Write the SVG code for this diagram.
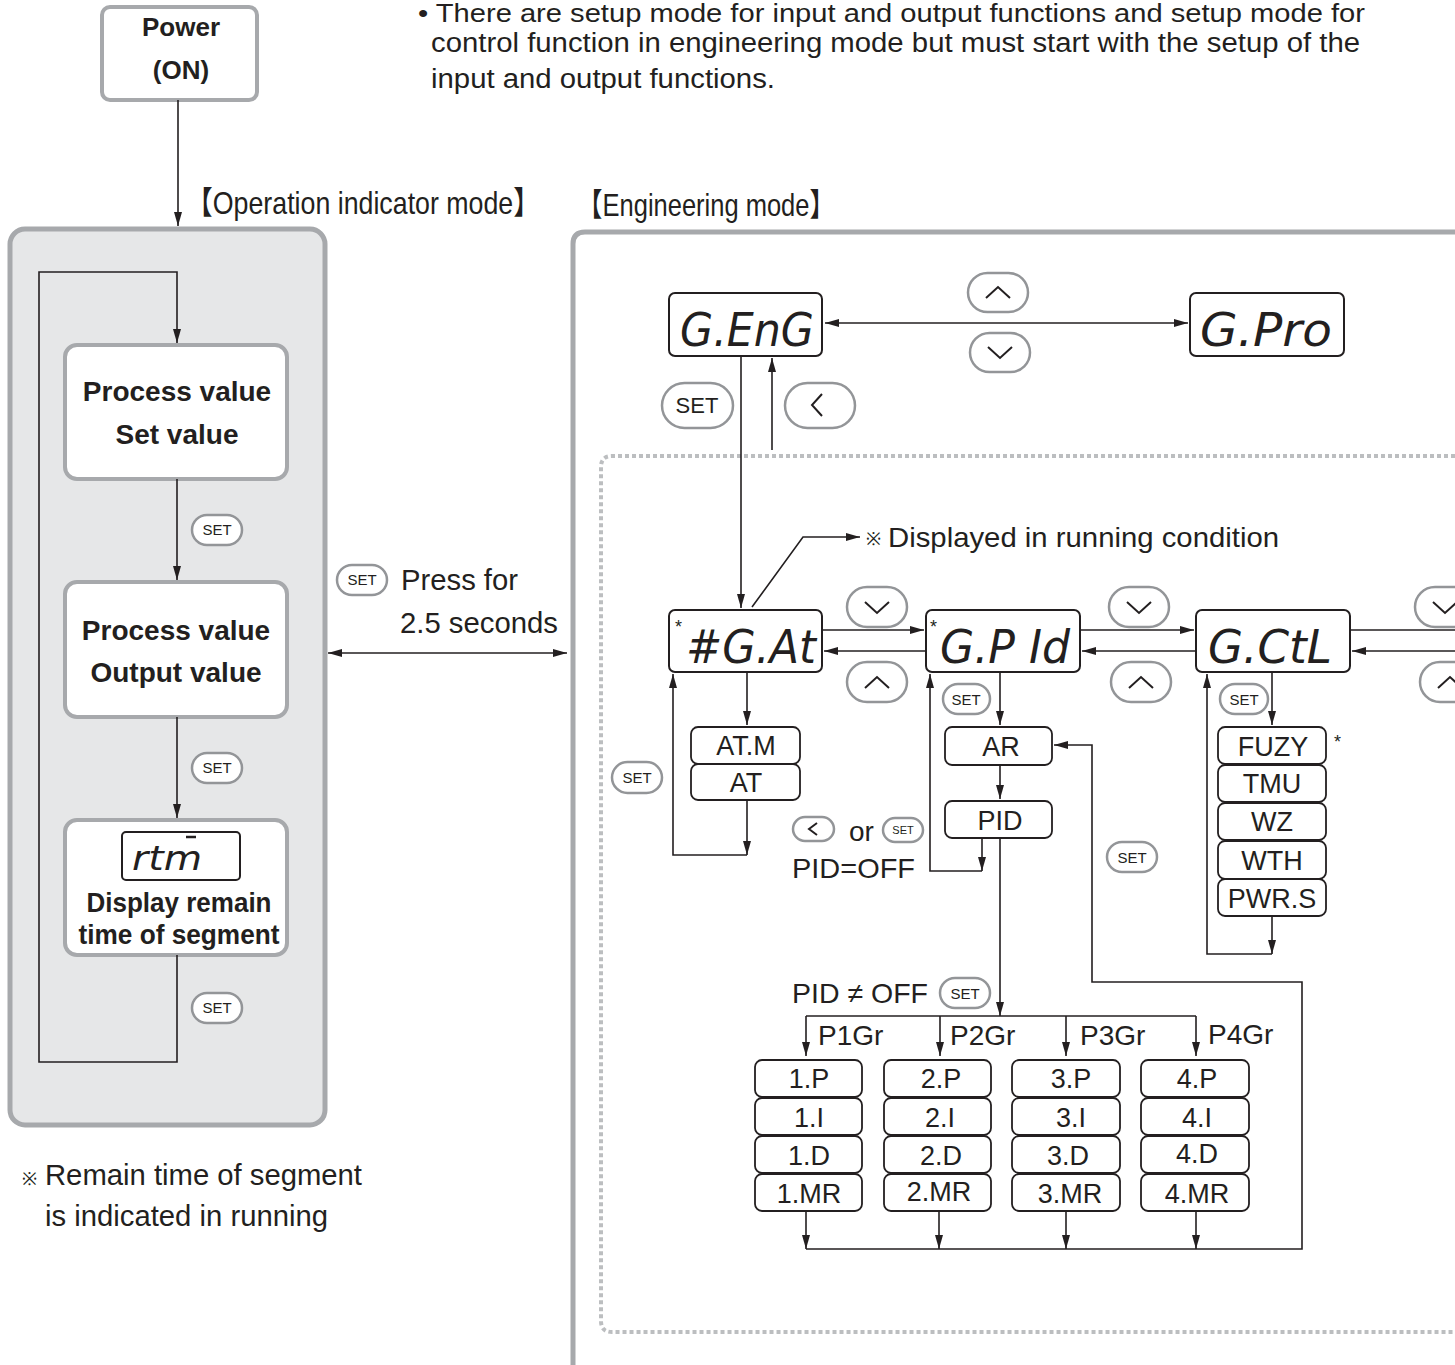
<svg xmlns="http://www.w3.org/2000/svg" width="1455" height="1365" viewBox="0 0 1455 1365">
<defs>
<marker id="ah" viewBox="0 0 14 8" refX="14" refY="4" markerWidth="14" markerHeight="8" orient="auto-start-reverse" markerUnits="userSpaceOnUse"><path d="M0,0 L14,4 L0,8 z" fill="#231f20"/></marker>
<style>
.ln{fill:none;stroke:#231f20;stroke-width:1.6}
.btn{fill:#fff;stroke:#939598;stroke-width:2.5}
.chev{fill:none;stroke:#231f20;stroke-width:2}
.bt{font-family:"Liberation Sans",Arial,sans-serif;fill:#231f20;text-anchor:middle}
.t{font-family:"Liberation Sans",Arial,sans-serif;fill:#231f20}
.tb{font-family:"Liberation Sans",Arial,sans-serif;font-weight:bold;fill:#231f20;text-anchor:middle}
.box{fill:#fff;stroke:#231f20;stroke-width:1.8}
.disp{fill:#fff;stroke:#231f20;stroke-width:2}
.seg{font-family:"DejaVu Sans","Liberation Sans",sans-serif;font-style:italic;fill:#231f20}
.it{font-family:"Liberation Sans",Arial,sans-serif;fill:#231f20;text-anchor:middle;font-size:27px}
.hdr{font-family:"Liberation Sans","Noto Sans CJK JP",sans-serif;fill:#231f20;font-size:32px}
</style>
</defs>
<rect width="1455" height="1365" fill="#fff"/>

<!-- panels -->
<g id="op-panel">
<rect x="10" y="229" width="315" height="896" rx="15" fill="#e6e7e8" stroke="#a7a9ac" stroke-width="5"/>
</g>
<g id="eng-panel">
<path d="M573,1370 V244 Q573,232 585,232 H1460" fill="#fff" stroke="#a7a9ac" stroke-width="5"/>
<path d="M1455,456 H612 Q601,456 601,467 V1321 Q601,1332 612,1332 H1455" fill="none" stroke="#bcbec0" stroke-width="4" stroke-dasharray="4 3"/>
</g>

<!-- header texts -->
<text class="t" font-size="26" x="418" y="22" textLength="947" lengthAdjust="spacingAndGlyphs">• There are setup mode for input and output functions and setup mode for</text>
<text class="t" font-size="27" x="431" y="52" textLength="929" lengthAdjust="spacingAndGlyphs">control function in engineering mode but must start with the setup of the</text>
<text class="t" font-size="27" x="431" y="88" textLength="344" lengthAdjust="spacingAndGlyphs">input and output functions.</text>
<text class="hdr" x="186" y="214" textLength="354" lengthAdjust="spacingAndGlyphs">【Operation indicator mode】</text>
<text class="hdr" x="577" y="216" textLength="258" lengthAdjust="spacingAndGlyphs">【Engineering mode】</text>

<!-- Power node -->
<g id="power">
<rect x="102" y="7" width="155" height="93" rx="8" fill="#fff" stroke="#a7a9ac" stroke-width="4"/>
<text class="tb" font-size="26" x="181" y="36">Power</text>
<text class="tb" font-size="26" x="181" y="79">(ON)</text>
</g>

<!-- Operation indicator nodes -->
<g id="pv-sv">
<rect x="65" y="345" width="222" height="134" rx="12" fill="#fff" stroke="#a7a9ac" stroke-width="4"/>
<text class="tb" font-size="28" x="177" y="401">Process value</text>
<text class="tb" font-size="28" x="177" y="444">Set value</text>
</g>
<g id="pv-ov">
<rect x="65" y="582" width="222" height="135" rx="12" fill="#fff" stroke="#a7a9ac" stroke-width="4"/>
<text class="tb" font-size="28" x="176" y="640">Process value</text>
<text class="tb" font-size="28" x="176" y="682">Output value</text>
</g>
<g id="rtm">
<rect x="65" y="820" width="222" height="135" rx="12" fill="#fff" stroke="#a7a9ac" stroke-width="4"/>
<rect x="122" y="832" width="118" height="48" rx="4" class="disp" stroke-width="1.6"/>
<text class="seg" font-size="34" x="132" y="870" textLength="70" lengthAdjust="spacingAndGlyphs">rtm</text>
<line x1="186" y1="837" x2="196" y2="837" stroke="#231f20" stroke-width="2.5"/>
<text class="tb" font-size="27" x="179" y="912" textLength="185" lengthAdjust="spacingAndGlyphs">Display remain</text>
<text class="tb" font-size="27" x="179" y="944" textLength="201" lengthAdjust="spacingAndGlyphs">time of segment</text>
</g>

<!-- op buttons -->
<g id="op-buttons">
<rect class="btn" x="192" y="515" width="50" height="30" rx="15"/><text class="bt" font-size="15" x="217" y="535">SET</text>
<rect class="btn" x="192" y="753" width="50" height="30" rx="15"/><text class="bt" font-size="15" x="217" y="773">SET</text>
<rect class="btn" x="192" y="993" width="50" height="30" rx="15"/><text class="bt" font-size="15" x="217" y="1013">SET</text>
<rect class="btn" x="337" y="565" width="50" height="30" rx="15"/><text class="bt" font-size="15" x="362" y="585">SET</text>
</g>
<text class="t" font-size="29" x="401" y="590" textLength="117" lengthAdjust="spacingAndGlyphs">Press for</text>
<text class="t" font-size="29" x="400" y="633" textLength="158" lengthAdjust="spacingAndGlyphs">2.5 seconds</text>
<text class="t" font-size="18" x="22" y="1185">※</text>
<text class="t" font-size="29" x="45" y="1185" textLength="317" lengthAdjust="spacingAndGlyphs">Remain time of segment</text>
<text class="t" font-size="29" x="45" y="1226" textLength="283" lengthAdjust="spacingAndGlyphs">is indicated in running</text>

<!-- Engineering displays -->
<g id="g-eng">
<rect class="disp" x="669" y="293" width="153" height="63" rx="6"/>
<text class="seg" font-size="46" x="680" y="346" textLength="134" lengthAdjust="spacingAndGlyphs">G.EnG</text>
</g>
<g id="g-pro">
<rect class="disp" x="1190" y="293" width="154" height="63" rx="6"/>
<text class="seg" font-size="46" x="1200" y="346" textLength="132" lengthAdjust="spacingAndGlyphs">G.Pro</text>
</g>
<g id="g-at">
<rect class="disp" x="669" y="610" width="153" height="62" rx="6"/>
<text class="t" font-size="18" x="675" y="633">*</text>
<text class="seg" font-size="46" x="686" y="663" textLength="130" lengthAdjust="spacingAndGlyphs">#G.At</text>
</g>
<g id="g-pid">
<rect class="disp" x="926" y="610" width="154" height="62" rx="6"/>
<text class="t" font-size="18" x="930" y="633">*</text>
<text class="seg" font-size="46" x="940" y="663" textLength="130" lengthAdjust="spacingAndGlyphs">G.P Id</text>
</g>
<g id="g-ctl">
<rect class="disp" x="1196" y="610" width="154" height="62" rx="6"/>
<text class="seg" font-size="46" x="1208" y="663" textLength="124" lengthAdjust="spacingAndGlyphs">G.CtL</text>
</g>

<!-- AT group -->
<g id="atm"><rect class="box" x="691" y="727" width="109" height="37" rx="7"/><text class="it" x="746" y="755">AT.M</text></g>
<g id="at"><rect class="box" x="691" y="764" width="109" height="36" rx="7"/><text class="it" x="746" y="792">AT</text></g>
<g id="ar"><rect class="box" x="945" y="727" width="107" height="38" rx="7"/><text class="it" x="1001" y="756">AR</text></g>
<g id="pid"><rect class="box" x="945" y="801" width="107" height="37" rx="7"/><text class="it" x="1000" y="830">PID</text></g>

<g id="ctl-items">
<rect class="box" x="1218" y="727" width="108" height="37" rx="7"/><text class="it" x="1273" y="756">FUZY</text>
<rect class="box" x="1218" y="765" width="108" height="37" rx="7"/><text class="it" x="1272" y="793">TMU</text>
<rect class="box" x="1218" y="803" width="108" height="37" rx="7"/><text class="it" x="1272" y="831">WZ</text>
<rect class="box" x="1218" y="841" width="108" height="38" rx="7"/><text class="it" x="1272" y="870">WTH</text>
<rect class="box" x="1218" y="879" width="108" height="37" rx="7"/><text class="it" x="1272" y="908">PWR.S</text>
<text class="t" font-size="18" x="1334" y="748">*</text>
</g>

<g id="pid-grid">
<rect class="box" x="755" y="1060" width="107" height="37" rx="7"/><text class="it" x="809" y="1088">1.P</text>
<rect class="box" x="755" y="1098" width="107" height="37" rx="7"/><text class="it" x="809" y="1127">1.I</text>
<rect class="box" x="755" y="1136" width="107" height="37" rx="7"/><text class="it" x="809" y="1165">1.D</text>
<rect class="box" x="755" y="1174" width="107" height="37" rx="7"/><text class="it" x="809" y="1203">1.MR</text>
<rect class="box" x="884" y="1060" width="107" height="37" rx="7"/><text class="it" x="941" y="1088">2.P</text>
<rect class="box" x="884" y="1098" width="107" height="37" rx="7"/><text class="it" x="940" y="1127">2.I</text>
<rect class="box" x="884" y="1136" width="107" height="37" rx="7"/><text class="it" x="941" y="1165">2.D</text>
<rect class="box" x="884" y="1174" width="107" height="37" rx="7"/><text class="it" x="939" y="1201">2.MR</text>
<rect class="box" x="1012" y="1060" width="108" height="37" rx="7"/><text class="it" x="1071" y="1088">3.P</text>
<rect class="box" x="1012" y="1098" width="108" height="37" rx="7"/><text class="it" x="1071" y="1127">3.I</text>
<rect class="box" x="1012" y="1136" width="108" height="37" rx="7"/><text class="it" x="1068" y="1165">3.D</text>
<rect class="box" x="1012" y="1174" width="108" height="37" rx="7"/><text class="it" x="1070" y="1203">3.MR</text>
<rect class="box" x="1141" y="1060" width="108" height="37" rx="7"/><text class="it" x="1197" y="1088">4.P</text>
<rect class="box" x="1141" y="1098" width="108" height="37" rx="7"/><text class="it" x="1197" y="1127">4.I</text>
<rect class="box" x="1141" y="1136" width="108" height="37" rx="7"/><text class="it" x="1197" y="1163">4.D</text>
<rect class="box" x="1141" y="1174" width="108" height="37" rx="7"/><text class="it" x="1197" y="1203">4.MR</text>
</g>

<!-- labels -->
<text class="t" font-size="18" x="866" y="545">※</text>
<text class="t" font-size="28" x="888" y="547" textLength="391" lengthAdjust="spacingAndGlyphs">Displayed in running condition</text>
<text class="t" font-size="28" x="849" y="841">or</text>
<text class="t" font-size="28" x="792" y="878" textLength="123" lengthAdjust="spacingAndGlyphs">PID=OFF</text>
<text class="t" font-size="28" x="792" y="1003" textLength="136" lengthAdjust="spacingAndGlyphs">PID ≠ OFF</text>
<text class="t" font-size="28" x="818" y="1045">P1Gr</text>
<text class="t" font-size="28" x="950" y="1045">P2Gr</text>
<text class="t" font-size="28" x="1080" y="1045">P3Gr</text>
<text class="t" font-size="28" x="1208" y="1044">P4Gr</text>

<!-- engineering buttons -->
<g id="eng-buttons">
<rect class="btn" x="968" y="273" width="60" height="39" rx="19.5"/><path class="chev" d="M986,298 L998,287 L1010,298"/>
<rect class="btn" x="970" y="333" width="60" height="39" rx="19.5"/><path class="chev" d="M988,347 L1000,358 L1012,347"/>
<rect class="btn" x="662" y="383" width="71" height="45" rx="22.5"/><text class="bt" font-size="22" x="697" y="413">SET</text>
<rect class="btn" x="785" y="383" width="70" height="45" rx="22.5"/><path class="chev" d="M822,394 L812,405 L822,416"/>
<rect class="btn" x="847" y="587" width="60" height="40" rx="20"/><path class="chev" d="M865,602 L877,613 L889,602"/>
<rect class="btn" x="847" y="662" width="60" height="40" rx="20"/><path class="chev" d="M865,688 L877,677 L889,688"/>
<rect class="btn" x="1109" y="587" width="60" height="40" rx="20"/><path class="chev" d="M1127,602 L1139,613 L1151,602"/>
<rect class="btn" x="1111" y="662" width="60" height="40" rx="20"/><path class="chev" d="M1129,688 L1141,677 L1153,688"/>
<rect class="btn" x="1415" y="587" width="60" height="40" rx="20"/><path class="chev" d="M1433,602 L1445,613 L1457,602"/>
<rect class="btn" x="1420" y="662" width="60" height="40" rx="20"/><path class="chev" d="M1438,688 L1450,677 L1462,688"/>
<rect class="btn" x="612" y="762" width="50" height="31" rx="15.5"/><text class="bt" font-size="15" x="637" y="783">SET</text>
<rect class="btn" x="943" y="684" width="47" height="30" rx="15"/><text class="bt" font-size="15" x="966" y="705">SET</text>
<rect class="btn" x="1220" y="684" width="48" height="30" rx="15"/><text class="bt" font-size="15" x="1244" y="705">SET</text>
<rect class="btn" x="1107" y="842" width="50" height="30" rx="15"/><text class="bt" font-size="15" x="1132" y="863">SET</text>
<rect class="btn" x="940" y="978" width="50" height="30" rx="15"/><text class="bt" font-size="15" x="965" y="999">SET</text>
<rect class="btn" x="883" y="818" width="40" height="24" rx="12" stroke-width="2"/><text class="bt" font-size="11" x="903" y="834">SET</text>
<rect class="btn" x="793" y="817" width="41" height="24" rx="12" stroke-width="2"/><path class="chev" d="M817,823 L809,829 L817,835" stroke-width="1.6"/>
</g>

<!-- connectors -->
<g id="connectors">
<path class="ln" d="M178,100 V226" marker-end="url(#ah)"/>
<path class="ln" d="M177,955 V1062 H39 V272 H177 V343" marker-end="url(#ah)"/>
<path class="ln" d="M177,479 V580" marker-end="url(#ah)"/>
<path class="ln" d="M177,717 V818" marker-end="url(#ah)"/>
<path class="ln" d="M328,653 H567" marker-start="url(#ah)" marker-end="url(#ah)"/>
<path class="ln" d="M825,323 H1188" marker-start="url(#ah)" marker-end="url(#ah)"/>
<path class="ln" d="M741,356 V608" marker-end="url(#ah)"/>
<path class="ln" d="M772,450 V358" marker-end="url(#ah)"/>
<path class="ln" d="M752,607 L803,537 H860" marker-end="url(#ah)"/>
<path class="ln" d="M822,630 H924" marker-end="url(#ah)"/>
<path class="ln" d="M926,651 H824" marker-end="url(#ah)"/>
<path class="ln" d="M1080,630 H1194" marker-end="url(#ah)"/>
<path class="ln" d="M1196,651 H1082" marker-end="url(#ah)"/>
<path class="ln" d="M1350,630 H1460"/>
<path class="ln" d="M1460,651 H1352" marker-end="url(#ah)"/>
<path class="ln" d="M747,672 V725" marker-end="url(#ah)"/>
<path class="ln" d="M747,800 V855" marker-end="url(#ah)"/>
<path class="ln" d="M747,855 H673 V674" marker-end="url(#ah)"/>
<path class="ln" d="M1000,672 V725" marker-end="url(#ah)"/>
<path class="ln" d="M1000,765 V799" marker-end="url(#ah)"/>
<path class="ln" d="M982,838 V871" marker-end="url(#ah)"/>
<path class="ln" d="M982,871 H930 V674" marker-end="url(#ah)"/>
<path class="ln" d="M1000,838 V1016" marker-end="url(#ah)"/>
<path class="ln" d="M806,1016 H1196"/>
<path class="ln" d="M806,1016 V1056" marker-end="url(#ah)"/>
<path class="ln" d="M940,1016 V1056" marker-end="url(#ah)"/>
<path class="ln" d="M1066,1016 V1056" marker-end="url(#ah)"/>
<path class="ln" d="M1196,1016 V1056" marker-end="url(#ah)"/>
<path class="ln" d="M806,1211 V1249" marker-end="url(#ah)"/>
<path class="ln" d="M939,1211 V1249" marker-end="url(#ah)"/>
<path class="ln" d="M1066,1211 V1249" marker-end="url(#ah)"/>
<path class="ln" d="M1196,1211 V1249" marker-end="url(#ah)"/>
<path class="ln" d="M806,1249 H1302 V982 H1092 V745 H1054" marker-end="url(#ah)"/>
<path class="ln" d="M1272,672 V725" marker-end="url(#ah)"/>
<path class="ln" d="M1272,916 V954" marker-end="url(#ah)"/>
<path class="ln" d="M1272,954 H1207 V674" marker-end="url(#ah)"/>
</g>
</svg>
